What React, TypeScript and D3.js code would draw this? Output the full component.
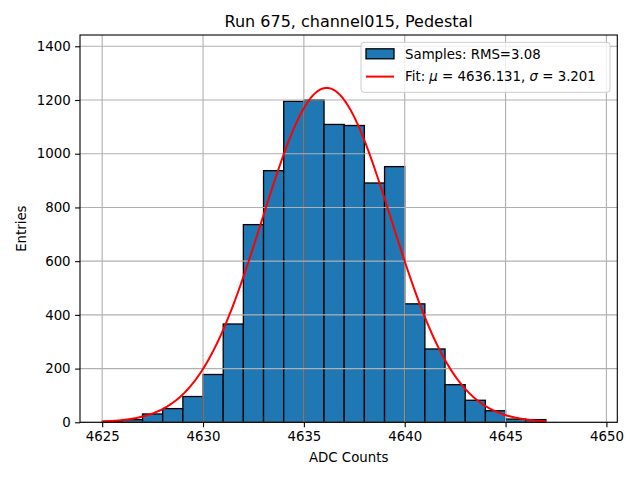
import { useEffect, useRef } from "react"
import * as d3 from "d3"

// histogram bins (left edges) and counts
const binEdges = [
  4625, 4626, 4627, 4628, 4629, 4630, 4631, 4632, 4633, 4634, 4635, 4636, 4637, 4638, 4639, 4640, 4641, 4642, 4643,
  4644, 4645, 4646, 4647,
]
const counts = [4, 10, 31, 51, 96, 178, 366, 736, 937, 1195, 1200, 1109, 1105, 891, 952, 441, 273, 140, 82, 43, 12, 10]

// fitted gaussian
const fitMu = 4636.131
const fitSigma = 3.201
const fitAmp = 1245
const fitRange = [4625, 4647]

const xTicks = [4625, 4630, 4635, 4640, 4645, 4650]
const yTicks = [0, 200, 400, 600, 800, 1000, 1200, 1400]

const FONT = "DejaVu Sans, sans-serif"

export default function App() {
  const svgRef = useRef<SVGSVGElement>(null)

  useEffect(() => {
    if (!svgRef.current) return
    const root = d3.select(svgRef.current)
    root.selectAll("*").remove()

    const width = 640
    const height = 480
    const margin = { top: 35, right: 22.7, bottom: 57.7, left: 80 }
    const innerWidth = width - margin.left - margin.right
    const innerHeight = height - margin.top - margin.bottom

    const x = d3.scaleLinear().domain([4623.9, 4650.54]).range([0, innerWidth])
    const y = d3.scaleLinear().domain([0, 1442]).range([innerHeight, 0])

    root.append("rect").attr("width", width).attr("height", height).attr("fill", "white")

    const svg = root.append("g").attr("transform", `translate(${margin.left},${margin.top})`)

    // bars
    svg
      .selectAll(".bar")
      .data(counts)
      .enter()
      .append("rect")
      .attr("class", "bar")
      .attr("x", (d, i) => x(binEdges[i]))
      .attr("width", (d, i) => x(binEdges[i + 1]) - x(binEdges[i]))
      .attr("y", (d) => y(d))
      .attr("height", (d) => y(0) - y(d))
      .attr("fill", "#1f77b4")
      .attr("stroke", "black")
      .attr("stroke-width", 1.3)

    // grid (drawn over bars, as matplotlib does)
    const grid = svg.append("g").attr("stroke", "#b0b0b0").attr("stroke-width", 1.1)
    xTicks.forEach((t) => {
      grid.append("line").attr("x1", x(t)).attr("x2", x(t)).attr("y1", 0).attr("y2", innerHeight)
    })
    yTicks.forEach((t) => {
      grid.append("line").attr("x1", 0).attr("x2", innerWidth).attr("y1", y(t)).attr("y2", y(t))
    })

    // fit curve
    const fit = (v: number) => fitAmp * Math.exp(-0.5 * ((v - fitMu) / fitSigma) ** 2)
    const pts = d3.range(fitRange[0], fitRange[1] + 0.001, 0.05).map((v) => [v, fit(v)] as [number, number])
    const line = d3
      .line<[number, number]>()
      .x((d) => x(d[0]))
      .y((d) => y(d[1]))
    svg
      .append("path")
      .datum(pts)
      .attr("fill", "none")
      .attr("stroke", "red")
      .attr("stroke-width", 2)
      .attr("d", line)

    // axes
    const xAxis = svg
      .append("g")
      .attr("transform", `translate(0,${innerHeight})`)
      .call(d3.axisBottom(x).tickValues(xTicks).tickFormat(d3.format("d")).tickSize(4.9).tickPadding(4.5))
    const yAxis = svg
      .append("g")
      .call(d3.axisLeft(y).tickValues(yTicks).tickFormat(d3.format("d")).tickSize(4.9).tickPadding(4.5))
    ;[xAxis, yAxis].forEach((a) => {
      a.select(".domain").remove()
      a.selectAll("line").attr("stroke", "black").attr("stroke-width", 1.1)
      a.selectAll("text").style("font-family", FONT).style("font-size", "13.33px").attr("fill", "black")
    })

    svg
      .append("rect")
      .attr("width", innerWidth)
      .attr("height", innerHeight)
      .attr("fill", "none")
      .attr("stroke", "black")
      .attr("stroke-width", 1.1)

    // title and labels
    root
      .append("text")
      .attr("x", margin.left + innerWidth / 2)
      .attr("y", 27)
      .attr("text-anchor", "middle")
      .style("font-family", FONT)
      .style("font-size", "16px")
      .text("Run 675, channel015, Pedestal")

    root
      .append("text")
      .attr("x", margin.left + innerWidth / 2)
      .attr("y", 462)
      .attr("text-anchor", "middle")
      .style("font-family", FONT)
      .style("font-size", "13.33px")
      .text("ADC Counts")

    root
      .append("text")
      .attr("transform", `translate(26,${margin.top + innerHeight / 2}) rotate(-90)`)
      .attr("text-anchor", "middle")
      .style("font-family", FONT)
      .style("font-size", "13.33px")
      .text("Entries")

    // legend
    const legend = root.append("g").attr("transform", "translate(361,42.3)")
    legend
      .append("rect")
      .attr("width", 249)
      .attr("height", 50)
      .attr("rx", 3)
      .attr("fill", "white")
      .attr("fill-opacity", 0.8)
      .attr("stroke", "#cccccc")
      .attr("stroke-width", 1)
    legend
      .append("rect")
      .attr("x", 5)
      .attr("y", 6.5)
      .attr("width", 28)
      .attr("height", 10)
      .attr("fill", "#1f77b4")
      .attr("stroke", "black")
      .attr("stroke-width", 1.3)
    legend
      .append("text")
      .attr("x", 44)
      .attr("y", 16.5)
      .style("font-family", FONT)
      .style("font-size", "13.33px")
      .text("Samples: RMS=3.08")
    legend
      .append("line")
      .attr("x1", 5)
      .attr("x2", 33)
      .attr("y1", 34.3)
      .attr("y2", 34.3)
      .attr("stroke", "red")
      .attr("stroke-width", 2)
    const fitText = legend
      .append("text")
      .attr("x", 44)
      .attr("y", 39)
      .style("font-family", FONT)
      .style("font-size", "13.33px")
    fitText.append("tspan").text("Fit: ")
    fitText.append("tspan").style("font-style", "italic").text("μ")
    fitText.append("tspan").text(" = 4636.131, ")
    fitText.append("tspan").style("font-style", "italic").text("σ")
    fitText.append("tspan").text(" = 3.201")
  }, [])

  return (
    <div style={{ margin: -8 }}>
      <svg ref={svgRef} width={640} height={480} style={{ display: "block" }}></svg>
    </div>
  )
}
